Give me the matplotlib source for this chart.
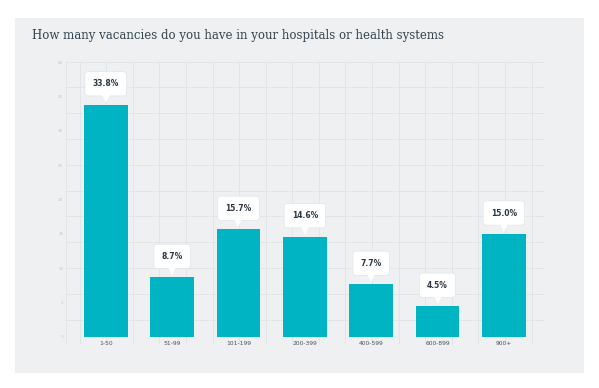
import numpy as np
import matplotlib.pyplot as plt
import matplotlib.transforms as mtransforms
from matplotlib.patches import Rectangle

# ================= DATA =================

categories = ["1-50", "51-99", "101-199", "200-399", "400-599", "600-899", "900+"]
shares = [33.8, 8.7, 15.7, 14.6, 7.7, 4.5, 15.0]
y_ticks = [0, 5, 10, 15, 20, 25, 30, 35, 40]

title = "How many vacancies do you have in your hospitals or health systems"

# ================= STYLE =================

W, H = 599, 388
bar_color = "#00b4c3"
panel_color = "#eef0f2"
grid_color = "#e0e3e6"
title_color = "#35444f"

fig = plt.figure(figsize=(W / 100, H / 100), dpi=100)
fig.patch.set_facecolor("white")

def px(x0, y0, x1, y1):
    # pixel box (top-left origin) -> figure fraction rect
    return [x0 / W, 1 - y1 / H, (x1 - x0) / W, (y1 - y0) / H]

# grey panel
fig.patches.append(Rectangle((15 / W, 1 - 373 / H), (584 - 15) / W, (373 - 18) / H,
                             transform=fig.transFigure, facecolor=panel_color,
                             edgecolor="none", zorder=-5))

fig.text(32 / W, 1 - 36 / H, title, fontsize=8.45, family="DejaVu Serif",
         color=title_color, va="center", ha="left")

# ================= BACKGROUND GRID =================

grid_ax = fig.add_axes(px(66, 61.5, 545, 345))
grid_ax.set_zorder(1)
grid_ax.set_xlim(66, 545)
grid_ax.set_ylim(345, 61.5)
grid_ax.axis("off")
for gx in [66, 545] + list(79.5 + 26.6 * np.arange(18)):
    grid_ax.axvline(gx, color=grid_color, lw=0.6)
for gy in 61.5 + 25.8 * np.arange(12):
    grid_ax.axhline(gy, color=grid_color, lw=0.6)

# ================= BARS =================

ax = fig.add_axes(px(66, 62, 545, 337))
ax.set_zorder(2)
ax.patch.set_alpha(0)
ax.set_xlim(-0.6, 6.62)
ax.set_ylim(0, 40)
x = np.arange(len(categories))
ax.bar(x, shares, width=0.66, color=bar_color, zorder=2)

for s in ax.spines.values():
    s.set_visible(False)
ax.set_yticks(y_ticks)
ax.set_yticklabels([str(t) for t in y_ticks], fontsize=3, color="#c4c8cc")
ax.tick_params(axis="y", length=0, pad=2)
ax.set_xticks(x)
ax.set_xticklabels(categories, fontsize=4.3, color="#4a5258")
ax.tick_params(axis="x", length=0, pad=3)

# ================= VALUE CALLOUTS =================

pointer_tf = mtransforms.offset_copy(ax.transData, fig=fig, y=4.2, units="points")
for xi, v in zip(x, shares):
    ax.annotate(f"{v:.1f}%", (xi, v), xytext=(0, 15), textcoords="offset points",
                ha="center", va="center", fontsize=5.5, fontweight="bold",
                color="#2b3640", zorder=4,
                bbox=dict(boxstyle="round,pad=1.0,rounding_size=0.45",
                          fc="white", ec="#e2e5e8", lw=0.5))
    ax.plot([xi], [v], marker="v", markersize=5.5, color="white",
            transform=pointer_tf, zorder=5, clip_on=False, markeredgewidth=0)

fig.savefig("out.png", dpi=100, facecolor="white")
